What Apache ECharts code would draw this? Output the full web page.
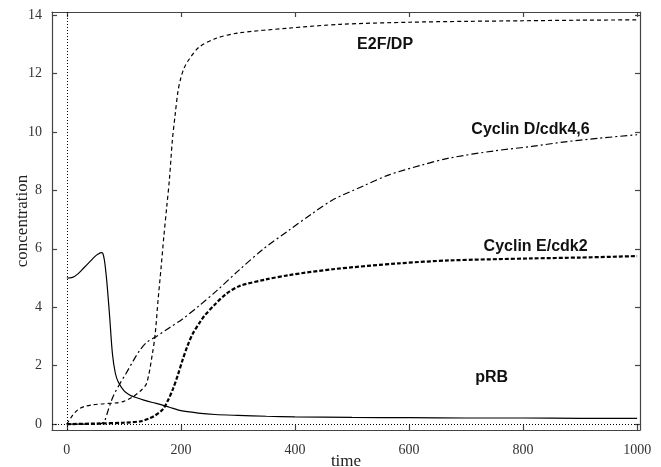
<!DOCTYPE html>
<html>
<head>
<meta charset="utf-8">
<script src="https://cdn.jsdelivr.net/npm/echarts@6/dist/echarts.min.js"></script>
<style>
  html, body { margin: 0; padding: 0; background: #fff; }
</style>
</head>
<body>
<div id="main" style="width: 661px; height: 467px"></div>
<script>
// tick values
const xTicks = [0, 200, 400, 600, 800, 1000]
const yTicks = [0, 2, 4, 6, 8, 10, 12, 14]

// pRB
const prbT = [0, 10, 20, 30, 40, 50, 55, 60, 63, 66, 70, 75, 80, 85, 90, 100, 110, 120, 135, 150, 165, 180, 200, 230, 260, 300, 350, 400, 500, 600, 700, 800, 900, 1000]
const prbV = [5.0, 5.02, 5.15, 5.35, 5.55, 5.75, 5.82, 5.87, 5.85, 5.6, 4.9, 3.7, 2.4, 1.75, 1.45, 1.15, 1.0, 0.92, 0.82, 0.74, 0.67, 0.58, 0.46, 0.38, 0.33, 0.3, 0.27, 0.25, 0.23, 0.22, 0.21, 0.21, 0.2, 0.2]

// E2F/DP
const e2fT = [0, 10, 20, 30, 45, 60, 87, 100, 116, 130, 140, 150, 155, 160, 165, 170, 175, 180, 185, 190, 195, 200, 206, 215, 232, 262, 300, 390, 480, 600, 700, 800, 900, 1000]
const e2fV = [0, 0.3, 0.5, 0.6, 0.66, 0.69, 0.73, 0.78, 0.94, 1.15, 1.4, 2.4, 3.1, 4.25, 5.3, 6.4, 7.4, 8.4, 9.7, 10.6, 11.4, 11.85, 12.2, 12.5, 12.9, 13.2, 13.38, 13.55, 13.68, 13.75, 13.78, 13.8, 13.82, 13.83]

// Cyclin D/cdk4,6
const cycDT = [0, 30, 60, 66, 72, 81, 92, 104, 116, 128, 140, 157, 180, 203, 232, 262, 302, 345, 390, 430, 466, 520, 565, 620, 670, 750, 815, 870, 932, 1000]
const cycDV = [0, 0, 0.02, 0.1, 0.45, 0.94, 1.35, 1.74, 2.15, 2.53, 2.8, 3.0, 3.3, 3.6, 4.05, 4.55, 5.27, 6.0, 6.64, 7.2, 7.67, 8.15, 8.53, 8.85, 9.1, 9.35, 9.5, 9.65, 9.78, 9.9]

// Cyclin E/cdk2
const cycET = [0, 50, 100, 130, 145, 155, 168, 177, 186, 195, 203, 212, 221, 232, 241, 260, 279, 302, 349, 390, 466, 582, 670, 815, 900, 1000]
const cycEV = [0, 0.02, 0.05, 0.1, 0.2, 0.3, 0.5, 0.8, 1.2, 1.7, 2.2, 2.7, 3.1, 3.45, 3.7, 4.1, 4.45, 4.72, 4.95, 5.1, 5.3, 5.5, 5.6, 5.67, 5.7, 5.75]

// curve labels (data coords)
const curveLabels = [
  { name: 'E2F/DP', at: [558, 13.0] },
  { name: 'Cyclin D/cdk4,6', at: [813, 10.08] },
  { name: 'Cyclin E/cdk2', at: [822, 6.08] },
  { name: 'pRB', at: [745, 1.58] }
]

const pairs = (t, v) => t.map((x, i) => [x, v[i]])

const main = document.getElementById('main')
const myChart = echarts.init(main)

const axisLineStyle = { color: '#444', width: 1.2 }
const serif = 'Liberation Serif'

const labelPoint = (name) => {
  const l = curveLabels.find(c => c.name === name)
  return {
    symbol: 'circle',
    symbolSize: 0,
    silent: true,
    label: {
      show: true,
      position: 'inside',
      formatter: name,
      fontFamily: 'Liberation Sans',
      fontWeight: 'bold',
      fontSize: 16,
      color: '#111'
    },
    data: [{ coord: l.at }]
  }
}

const option = {
  animation: false,
  backgroundColor: '#fff',
  grid: { left: 52, right: 21, top: 12, bottom: 37, outerBoundsMode: 'none' },
  xAxis: [
    {
      type: 'value',
      min: -26,
      max: 1005,
      position: 'bottom',
      name: 'time',
      nameLocation: 'middle',
      nameGap: 23,
      nameMoveOverlap: false,
      nameTextStyle: { fontFamily: serif, fontSize: 17, color: '#222' },
      axisLine: { show: true, onZero: false, lineStyle: axisLineStyle },
      axisTick: { show: true, inside: true, length: 5, customValues: xTicks, lineStyle: axisLineStyle },
      axisLabel: { customValues: xTicks, margin: 13, fontFamily: serif, fontSize: 14, color: '#333', formatter: v => String(v) },
      splitLine: { show: false }
    },
    {
      type: 'value',
      min: -26,
      max: 1005,
      position: 'top',
      axisLine: { show: true, onZero: false, lineStyle: axisLineStyle },
      axisTick: { show: true, inside: true, length: 5, customValues: xTicks, lineStyle: axisLineStyle },
      axisLabel: { show: false },
      splitLine: { show: false }
    }
  ],
  yAxis: [
    {
      type: 'value',
      min: -0.2,
      max: 14.1,
      position: 'left',
      name: 'concentration',
      nameLocation: 'middle',
      nameGap: 21,
      nameMoveOverlap: false,
      nameTextStyle: { fontFamily: serif, fontSize: 17, color: '#222' },
      axisLine: { show: true, onZero: false, lineStyle: axisLineStyle },
      axisTick: { show: true, inside: true, length: 5, customValues: yTicks, lineStyle: axisLineStyle },
      axisLabel: { customValues: yTicks, margin: 10, fontFamily: serif, fontSize: 14, color: '#333' },
      splitLine: { show: false }
    },
    {
      type: 'value',
      min: -0.2,
      max: 14.1,
      position: 'right',
      axisLine: { show: true, onZero: false, lineStyle: axisLineStyle },
      axisTick: { show: true, inside: true, length: 5, customValues: yTicks, lineStyle: axisLineStyle },
      axisLabel: { show: false },
      splitLine: { show: false }
    }
  ],
  series: [
    {
      name: 'pRB',
      type: 'line',
      showSymbol: false,
      smooth: 0.3,
      data: pairs(prbT, prbV),
      lineStyle: { color: '#000', width: 1.2, type: 'solid' },
      markPoint: labelPoint('pRB'),
      markLine: {
        silent: true,
        symbol: 'none',
        label: { show: false },
        lineStyle: { color: '#000', width: 1, type: [1, 2] },
        data: [{ xAxis: 0 }, { yAxis: 0 }]
      }
    },
    {
      name: 'E2F/DP',
      type: 'line',
      showSymbol: false,
      smooth: 0.3,
      data: pairs(e2fT, e2fV),
      lineStyle: { color: '#000', width: 1.2, type: [4, 3] },
      markPoint: labelPoint('E2F/DP')
    },
    {
      name: 'Cyclin D/cdk4,6',
      type: 'line',
      showSymbol: false,
      smooth: 0.3,
      data: pairs(cycDT, cycDV),
      lineStyle: { color: '#000', width: 1.2, type: [7, 3, 2, 3] },
      markPoint: labelPoint('Cyclin D/cdk4,6')
    },
    {
      name: 'Cyclin E/cdk2',
      type: 'line',
      showSymbol: false,
      smooth: 0.3,
      data: pairs(cycET, cycEV),
      lineStyle: { color: '#000', width: 2.2, type: [4, 2] },
      markPoint: labelPoint('Cyclin E/cdk2')
    }
  ]
}

myChart.setOption(option)
</script>
</body>
</html>
